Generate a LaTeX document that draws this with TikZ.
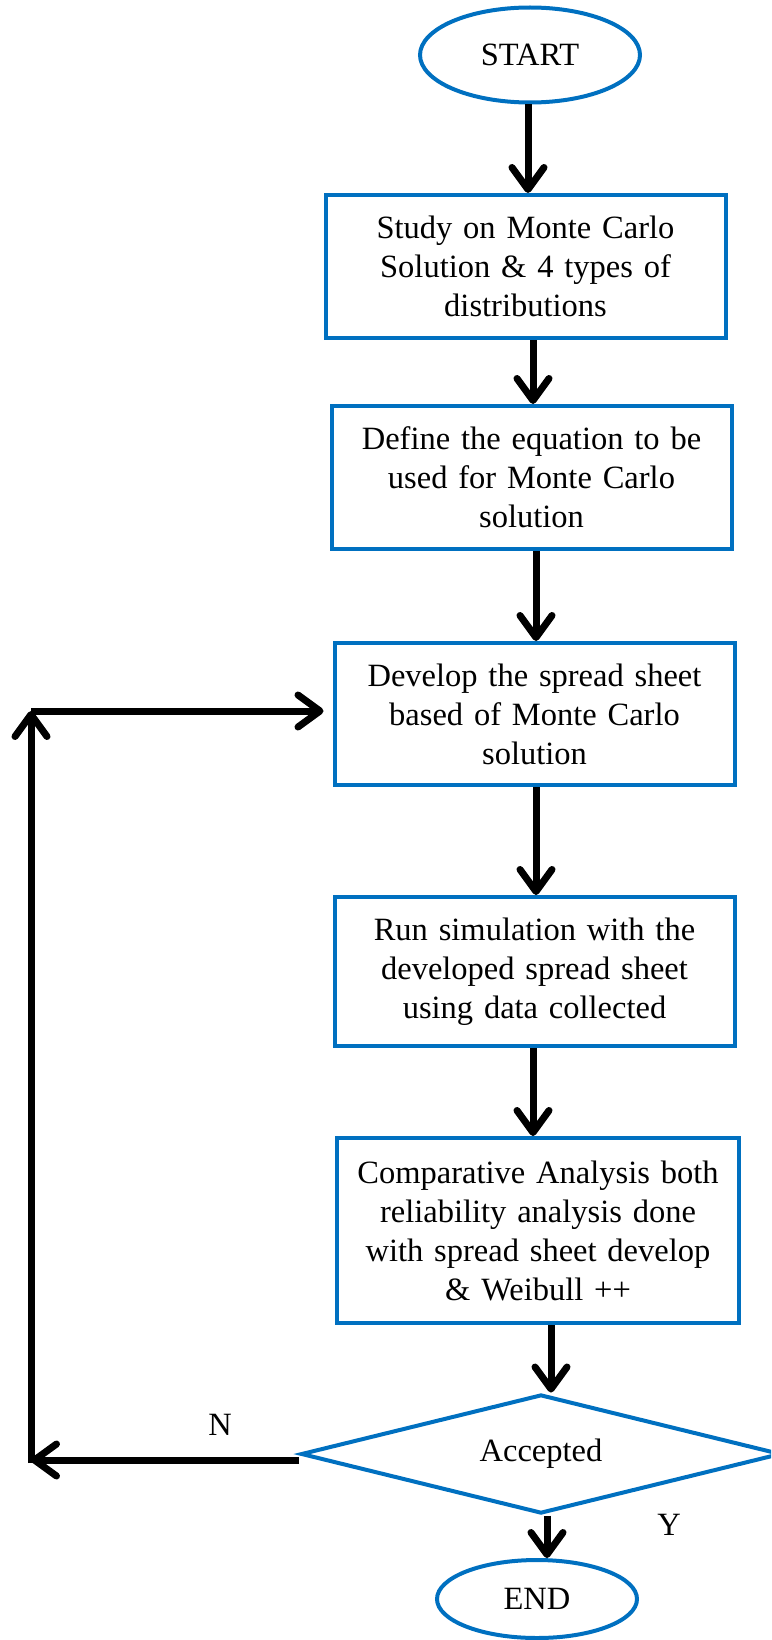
\documentclass[tikz,border=0pt]{standalone}
\usepackage{fontspec}
\setmainfont{Liberation Serif}
\usetikzlibrary{shapes.geometric,arrows.meta}
\definecolor{wordblue}{RGB}{0,112,192}
\tikzset{
  txt/.style={font=\fontsize{32.5}{39}\selectfont},
  term/.style={ellipse, draw=wordblue, line width=4pt, inner sep=0pt, txt},
  stepbox/.style={rectangle, draw=wordblue, line width=4pt, inner sep=0pt, align=center, text width=400pt, txt},
  decision/.style={diamond, aspect=4, draw=wordblue, line width=4pt, inner sep=0pt, minimum width=480pt, minimum height=119pt, txt},
  arr/.style={draw=black, line width=7pt, -{Straight Barb[length=22pt,width=32pt,round]}},
  plain/.style={draw=black, line width=7pt}
}
\begin{document}
\begin{tikzpicture}[x=1pt,y=-1pt]
\useasboundingbox (0,0) rectangle (771,1640);
\clip (0,0) rectangle (771,1640);
\node[term, minimum width=220pt, minimum height=95pt] (start) at (530,55) {START};
\node[stepbox, minimum width=397pt, minimum height=143pt] (b1) at (525.5,266.5) {Study on Monte Carlo\\Solution \& 4 types of\\distributions};
\node[stepbox, minimum width=397pt, minimum height=143pt] (b2) at (531.5,477.5) {Define the equation to be\\used for Monte Carlo\\solution};
\node[stepbox, minimum width=399pt, minimum height=142pt] (b3) at (534.5,714) {Develop the spread sheet\\based of Monte Carlo\\solution};
\node[stepbox, minimum width=399pt, minimum height=149pt] (b4) at (534.5,971.5) {Run simulation with the\\developed spread sheet\\using data collected};
\node[stepbox, minimum width=402pt, minimum height=185pt] (b5) at (538,1230.5) {Comparative Analysis both\\reliability analysis done\\with spread sheet develop\\\& Weibull ++};
\node[decision] (dia) at (541,1454) {Accepted};
\node[term, minimum width=200pt, minimum height=78pt] (end) at (537,1599) {END};
\node[txt] (nlab) at (220,1425) {N};
\node[txt] (ylab) at (669,1525) {Y};
\coordinate (bl) at (31,1460);
\coordinate (tl) at (31,711);
% main flow
\draw[arr] (start.south -| 528,0) -- (b1.north -| 528,0);
\draw[arr] (b1.south -| 533,0) -- (b2.north -| 533,0);
\draw[arr] (b2.south -| 536,0) -- (b3.north -| 536,0);
\draw[arr] (b3.south -| 536,0) -- (b4.north -| 536,0);
\draw[arr] (b4.south -| 533,0) -- (b5.north -| 533,0);
\draw[arr] (b5.south -| 551,0) -- (dia.north -| 551,0);
\draw[arr] (dia.south -| 547,0) -- (end.north -| 547,0);
% loop back
\draw[arr] (dia.west |- bl) -- (bl);
\draw[arr] ([yshift=-3pt]bl) -- (tl);
\draw[arr, shorten >=9pt] (tl) -- (b3.west |- tl);
\end{tikzpicture}
\end{document}
